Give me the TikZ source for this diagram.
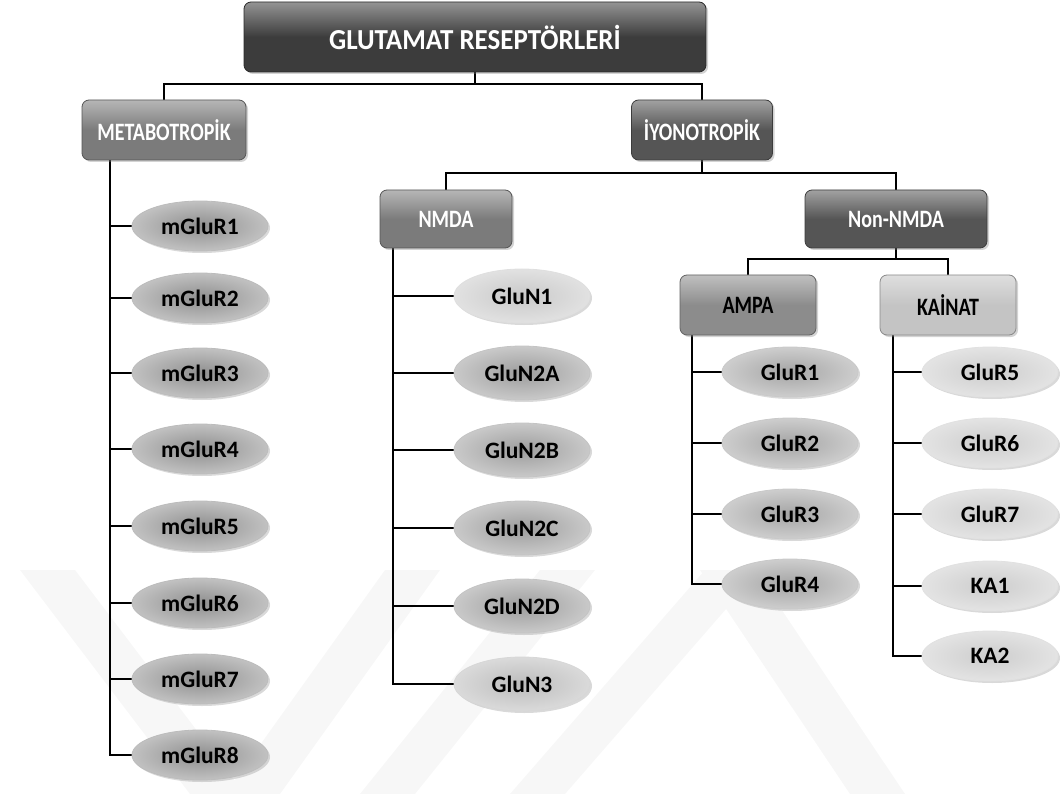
\documentclass[tikz,border=0pt]{standalone}
\usepackage{fontspec}
\setmainfont{Carlito}
\newfontfamily\boxfont[FakeStretch=0.8]{Carlito}
\newfontfamily\titlefont[FakeStretch=0.93]{Carlito}
\usetikzlibrary{shapes.geometric,shadows,backgrounds}
\definecolor{cTitle}{HTML}{3C3C3C}
\definecolor{cDark}{HTML}{555555}
\definecolor{cMid}{HTML}{7B7B7B}
\definecolor{cAmpa}{HTML}{8C8C8C}
\definecolor{cKai}{HTML}{C4C4C4}
\definecolor{cMg}{HTML}{8F8F8F}
\definecolor{cN1}{HTML}{C9C9C9}
\definecolor{cN2}{HTML}{9D9D9D}
\definecolor{cN3}{HTML}{BCBCBC}
\definecolor{cGa}{HTML}{A5A5A5}
\definecolor{cGk}{HTML}{CDCDCD}
\definecolor{cWm}{HTML}{F7F7F7}
\tikzset{
  boxbase/.style={rectangle, rounded corners=7pt, inner sep=0pt,
    draw=#1!70!black, line width=0.8pt,
    top color=#1!55!white, bottom color=#1, middle color=#1,
    drop shadow={shadow xshift=2pt, shadow yshift=-2pt, opacity=0.35}},
  lbl/.style={font=\boxfont\bfseries\fontsize{25}{29}\selectfont},
  elbase/.style={ellipse, inner sep=0pt, minimum width=136pt, minimum height=50pt,
    draw=#1!60!white, line width=0.8pt,
    inner color=#1, outer color=#1!55!white,
    drop shadow={shadow xshift=2pt, shadow yshift=-2pt, opacity=0.3},
    font=\bfseries\fontsize{23.5}{27}\selectfont, text=black},
  conn/.style={line width=1.8pt, black},
}
\begin{document}
\begin{tikzpicture}[x=1pt,y=-1pt]
\useasboundingbox (0,0) rectangle (1060,794);
% boxes
\node[boxbase=cTitle, minimum width=462pt, minimum height=70pt, text=white,
  font=\titlefont\bfseries\fontsize{29}{33}\selectfont] (top) at (475,37) {GLUTAMAT RESEPTÖRLERİ};
\node[boxbase=cMid, lbl, text=white, minimum width=164pt, minimum height=60pt] (meta) at (164,130) {METABOTROPİK};
\node[boxbase=cDark, lbl, text=white, minimum width=141pt, minimum height=60pt] (iyon) at (702,130) {İYONOTROPİK};
\node[boxbase=cMid, lbl, text=white, minimum width=132pt, minimum height=58pt] (nmda) at (446,219) {NMDA};
\node[boxbase=cDark, lbl, text=white, minimum width=182pt, minimum height=58pt] (non) at (896,219) {Non-NMDA};
\node[boxbase=cAmpa, lbl, text=black, minimum width=136pt, minimum height=60pt] (ampa) at (748,305) {AMPA};
\node[boxbase=cKai, lbl, text=black, minimum width=136pt, minimum height=60pt] (kai) at (948,305) {KAİNAT};
% metabotropic ellipses
\node[elbase=cMg] (m1) at (200,226) {mGluR1};
\node[elbase=cMg] (m2) at (200,298) {mGluR2};
\node[elbase=cMg] (m3) at (200,373) {mGluR3};
\node[elbase=cMg] (m4) at (200,449) {mGluR4};
\node[elbase=cMg] (m5) at (200,526) {mGluR5};
\node[elbase=cMg] (m6) at (200,603) {mGluR6};
\node[elbase=cMg] (m7) at (200,679) {mGluR7};
\node[elbase=cMg] (m8) at (200,755) {mGluR8};
% NMDA ellipses
\node[elbase=cN1, minimum height=54pt] (n1) at (522,296) {GluN1};
\node[elbase=cN2, minimum height=54pt] (n2) at (522,373) {GluN2A};
\node[elbase=cN2, minimum height=54pt] (n3) at (522,450) {GluN2B};
\node[elbase=cN2, minimum height=54pt] (n4) at (522,528) {GluN2C};
\node[elbase=cN2, minimum height=54pt] (n5) at (522,606) {GluN2D};
\node[elbase=cN3, minimum height=54pt] (n6) at (522,684) {GluN3};
% AMPA ellipses
\node[elbase=cGa] (a1) at (790,372) {GluR1};
\node[elbase=cGa] (a2) at (790,443) {GluR2};
\node[elbase=cGa] (a3) at (790,514) {GluR3};
\node[elbase=cGa] (a4) at (790,584) {GluR4};
% Kainat ellipses
\node[elbase=cGk] (k1) at (990,372) {GluR5};
\node[elbase=cGk] (k2) at (990,443) {GluR6};
\node[elbase=cGk] (k3) at (990,514) {GluR7};
\node[elbase=cGk] (k4) at (990,586) {KA1};
\node[elbase=cGk] (k5) at (990,656) {KA2};
% junction coordinates
\coordinate (j0) at (475,84);
\coordinate (j1) at (702,173);
\coordinate (j2) at (896,259);
\coordinate (mt) at (110,160);
\coordinate (nt) at (393,248);
\coordinate (at) at (692,335);
\coordinate (kt) at (893,335);
\begin{scope}[on background layer]
  % faint watermark
  \fill[cWm] (20,570) -- (75,570) -- (245,794) -- (190,794) -- cycle;
  \fill[cWm] (225,794) -- (280,794) -- (440,570) -- (385,570) -- cycle;
  \fill[cWm] (360,794) -- (415,794) -- (595,570) -- (540,570) -- cycle;
  \fill[cWm] (510,794) -- (565,794) -- (760,570) -- (705,570) -- cycle;
  \fill[cWm] (700,570) -- (755,570) -- (905,794) -- (850,794) -- cycle;
  % connectors
  \draw[conn] (top.south) -- (j0) -| (meta.north);
  \draw[conn] (j0) -| (iyon.north);
  \draw[conn] (iyon.south) -- (j1) -| (nmda.north);
  \draw[conn] (j1) -| (non.north);
  \draw[conn] (non.south) -- (j2) -| (ampa.north);
  \draw[conn] (j2) -| (kai.north);
  \draw[conn] (mt) |- (m8.west);
  \foreach \e in {m1,m2,m3,m4,m5,m6,m7} \draw[conn] (mt |- \e.west) -- (\e.west);
  \draw[conn] (nt) |- (n6.west);
  \foreach \e in {n1,n2,n3,n4,n5} \draw[conn] (nt |- \e.west) -- (\e.west);
  \draw[conn] (at) |- (a4.west);
  \foreach \e in {a1,a2,a3} \draw[conn] (at |- \e.west) -- (\e.west);
  \draw[conn] (kt) |- (k5.west);
  \foreach \e in {k1,k2,k3,k4} \draw[conn] (kt |- \e.west) -- (\e.west);
\end{scope}
\end{tikzpicture}
\end{document}
